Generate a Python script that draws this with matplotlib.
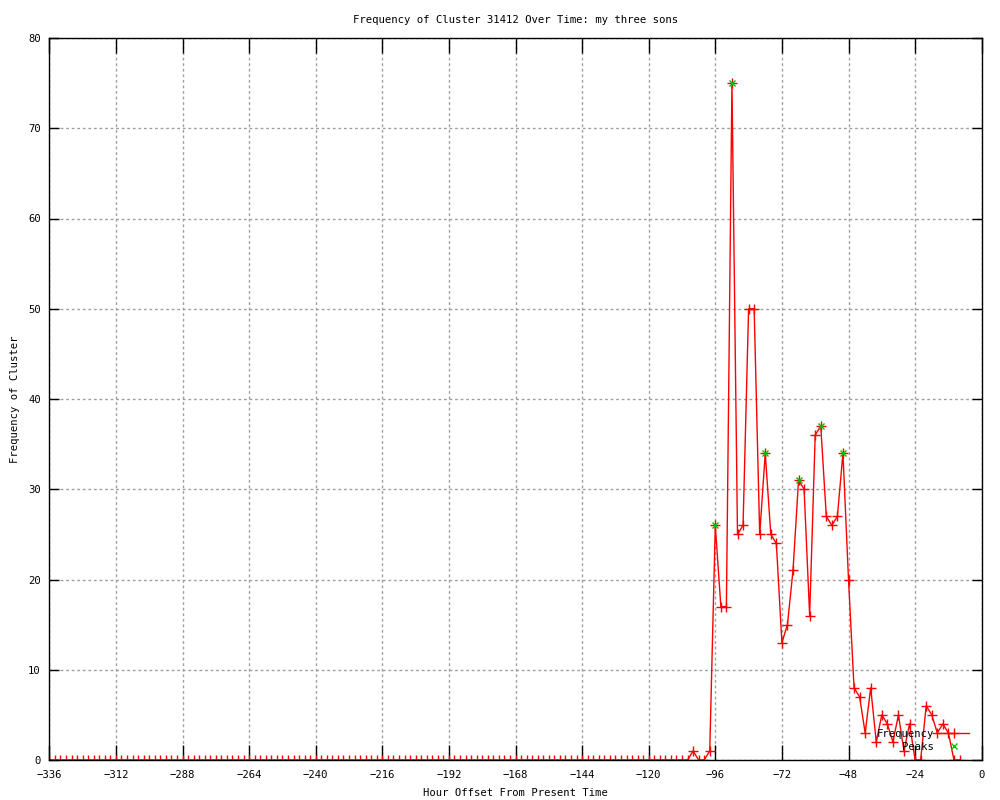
#!/usr/bin/env python3

import numpy as np
import matplotlib.pyplot as plt

plt.rcParams[ 'font.family' ] = 'DejaVu Sans Mono'
plt.rcParams[ 'font.size' ] = 7.6

# hour offsets, every 2 hours from -336 up to -8
hours = list( range( -336, -6, 2 ) )

# counts for -106 and earlier are all zero
tail = [ 1, 0, 0, 1, 26, 17, 17, 75, 25, 26, 50, 50, 25, 34, 25, 24, 13, 15,
         21, 31, 30, 16, 36, 37, 27, 26, 27, 34, 20, 8, 7, 3, 8, 2, 5, 4, 2,
         5, 1, 4, 0, 0, 6, 5, 3, 4, 3, 0, 0 ]
freq = [ 0 ] * ( len( hours ) - len( tail ) ) + tail

peakHours  = [ -96, -90, -78, -66, -58, -50 ]
peakValues = [ 26, 75, 34, 31, 37, 34 ]

fig = plt.figure( figsize = ( 10, 8 ), dpi = 100 )
ax = fig.add_axes( [ 0.0493, 0.05, 0.9324, 0.9025 ] )

ax.plot( hours, freq, color = 'red', lw = 1.0, marker = '+', ms = 6.5,
         mew = 1.0, label = 'Frequency' )
ax.plot( peakHours, peakValues, ls = 'none', color = '#00c000', marker = 'x',
         ms = 5, mew = 1.0, label = 'Peaks' )

ax.set_xlim( -336, 0 )
ax.set_ylim( 0, 80 )
ax.set_xticks( np.arange( -336, 1, 24 ) )
ax.set_yticks( np.arange( 0, 81, 10 ) )
ax.set_xticklabels( [ '{:d}'.format( t ).replace( '-', '\u2212' )
                      for t in range( -336, 1, 24 ) ] )

ax.tick_params( axis = 'x', direction = 'in', length = 11, width = 1.0,
                top = True, pad = 7 )
ax.tick_params( axis = 'y', direction = 'in', length = 7, width = 1.0,
                right = True, pad = 6 )
ax.grid( True, color = '#a0a0a0', ls = ( 0, ( 2, 2 ) ), lw = 1.0 )
ax.set_axisbelow( True )
for s in ax.spines.values():
    s.set_linewidth( 1.0 )

ax.set_title( 'Frequency of Cluster 31412 Over Time: my three sons',
              fontsize = 7.7, pad = 11 )
ax.set_xlabel( 'Hour Offset From Present Time', labelpad = 6 )
ax.set_ylabel( 'Frequency of Cluster', labelpad = 6 )

ax.legend( loc = 'center right', bbox_to_anchor = ( 0.992, 0.027 ),
           frameon = False, markerfirst = False, handlelength = 2.8,
           labelspacing = 0.3, borderpad = 0, handletextpad = 0.5 )

plt.savefig( 'out.png', dpi = 100 )
plt.close()
